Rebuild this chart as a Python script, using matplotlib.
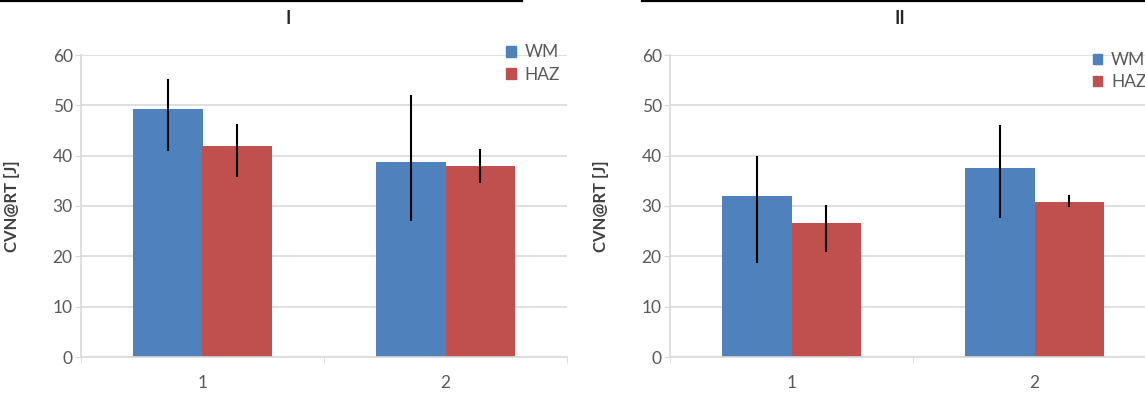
"""Grouped bar charts of CVN@RT impact energy for WM and HAZ, panels I and II."""

import matplotlib

matplotlib.use("Agg")
import matplotlib.pyplot as plt
import numpy as np
from matplotlib.lines import Line2D
from matplotlib.patches import Patch

plt.rcParams["font.family"] = ["Lato", "DejaVu Sans"]

CATEGORIES = ["1", "2"]
SERIES = ["WM", "HAZ"]

# panel I: bar heights and error bar ends (low, high)
WM_I = [49.3, 38.7]
WM_I_LOW = [40.9, 27.0]
WM_I_HIGH = [55.2, 52.0]
HAZ_I = [42.0, 37.9]
HAZ_I_LOW = [35.8, 34.6]
HAZ_I_HIGH = [46.2, 41.3]

# panel II
WM_II = [31.9, 37.6]
WM_II_LOW = [18.6, 27.6]
WM_II_HIGH = [40.0, 46.0]
HAZ_II = [26.7, 30.7]
HAZ_II_LOW = [20.8, 29.9]
HAZ_II_HIGH = [30.2, 32.1]

Y_TICKS = [0, 10, 20, 30, 40, 50, 60]

BLUE = "#4f81bd"
RED = "#c0504d"
GRID = "#d9d9d9"
TEXT = "#595959"

W, H = 1145, 396


def _errs(vals, low, high):
    vals = np.asarray(vals)
    return [vals - np.asarray(low), np.asarray(high) - vals]


def _panel(fig, left_px, wm, wm_lo, wm_hi, haz, haz_lo, haz_hi, legend_xy):
    ax = fig.add_axes([left_px / W, (H - 357) / H, 486 / W, 302 / H])
    x = np.arange(1, len(CATEGORIES) + 1)
    bw = 0.284
    err_kw = dict(ecolor="black", elinewidth=1.5, capsize=0)
    ax.bar(x - bw / 2, wm, bw, color=BLUE, yerr=_errs(wm, wm_lo, wm_hi),
           error_kw=err_kw, zorder=2, label=SERIES[0])
    ax.bar(x + bw / 2, haz, bw, color=RED, yerr=_errs(haz, haz_lo, haz_hi),
           error_kw=err_kw, zorder=2, label=SERIES[1])

    ax.set_xlim(0.5, len(CATEGORIES) + 0.5)
    ax.set_ylim(0, 60)
    ax.set_yticks(Y_TICKS)
    ax.set_xticks(x)
    ax.set_xticklabels(CATEGORIES)
    ax.set_xticks(np.arange(0.5, len(CATEGORIES) + 1), minor=True)
    ax.grid(axis="y", color=GRID, linewidth=1.2, zorder=0)
    ax.set_axisbelow(True)
    for side in ("top", "right"):
        ax.spines[side].set_visible(False)
    for side in ("left", "bottom"):
        ax.spines[side].set_color(GRID)
        ax.spines[side].set_linewidth(1.2)
    ax.tick_params(axis="y", colors=GRID, labelcolor=TEXT, labelsize=12.5,
                   length=4, pad=2)
    ax.tick_params(axis="x", which="major", length=0, labelcolor=TEXT,
                   labelsize=12.5, pad=13)
    ax.tick_params(axis="x", which="minor", colors=GRID, length=4)

    ax.set_ylabel("CVN@RT [J]", fontsize=12, fontweight="bold", color="#404040")
    ax.yaxis.set_label_coords(-0.125, 0.5)

    handles = [Patch(color=BLUE, label=SERIES[0]), Patch(color=RED, label=SERIES[1])]
    ax.legend(handles=handles, loc="upper left", bbox_to_anchor=legend_xy,
              frameon=False, fontsize=12.5, handlelength=0.55, handleheight=0.55,
              handletextpad=0.5, labelspacing=0.35, borderaxespad=0,
              borderpad=0, labelcolor=TEXT)
    return ax


def main():
    fig = plt.figure(figsize=(W / 100, H / 100), dpi=100)
    fig.patch.set_facecolor("white")

    _panel(fig, 81, WM_I, WM_I_LOW, WM_I_HIGH, HAZ_I, HAZ_I_LOW, HAZ_I_HIGH,
           (0.875, 1.035))
    _panel(fig, 670, WM_II, WM_II_LOW, WM_II_HIGH, HAZ_II, HAZ_II_LOW,
           HAZ_II_HIGH, (0.87, 1.01))

    fig.text(288 / W, 1 - 19 / H, "I", ha="center", va="center",
             fontsize=13, fontweight="bold", color="#262626")
    fig.text(900 / W, 1 - 19 / H, "II", ha="center", va="center",
             fontsize=13, fontweight="bold", color="#262626")

    # black frame edges along the top of each chart
    y_top = 1 - 1 / H
    fig.add_artist(Line2D([0, 522 / W], [y_top, y_top], color="black", lw=1.6))
    fig.add_artist(Line2D([642 / W, 1], [y_top, y_top], color="black", lw=1.6))

    fig.savefig("out.png", dpi=100)
    plt.close(fig)


if __name__ == "__main__":
    main()
